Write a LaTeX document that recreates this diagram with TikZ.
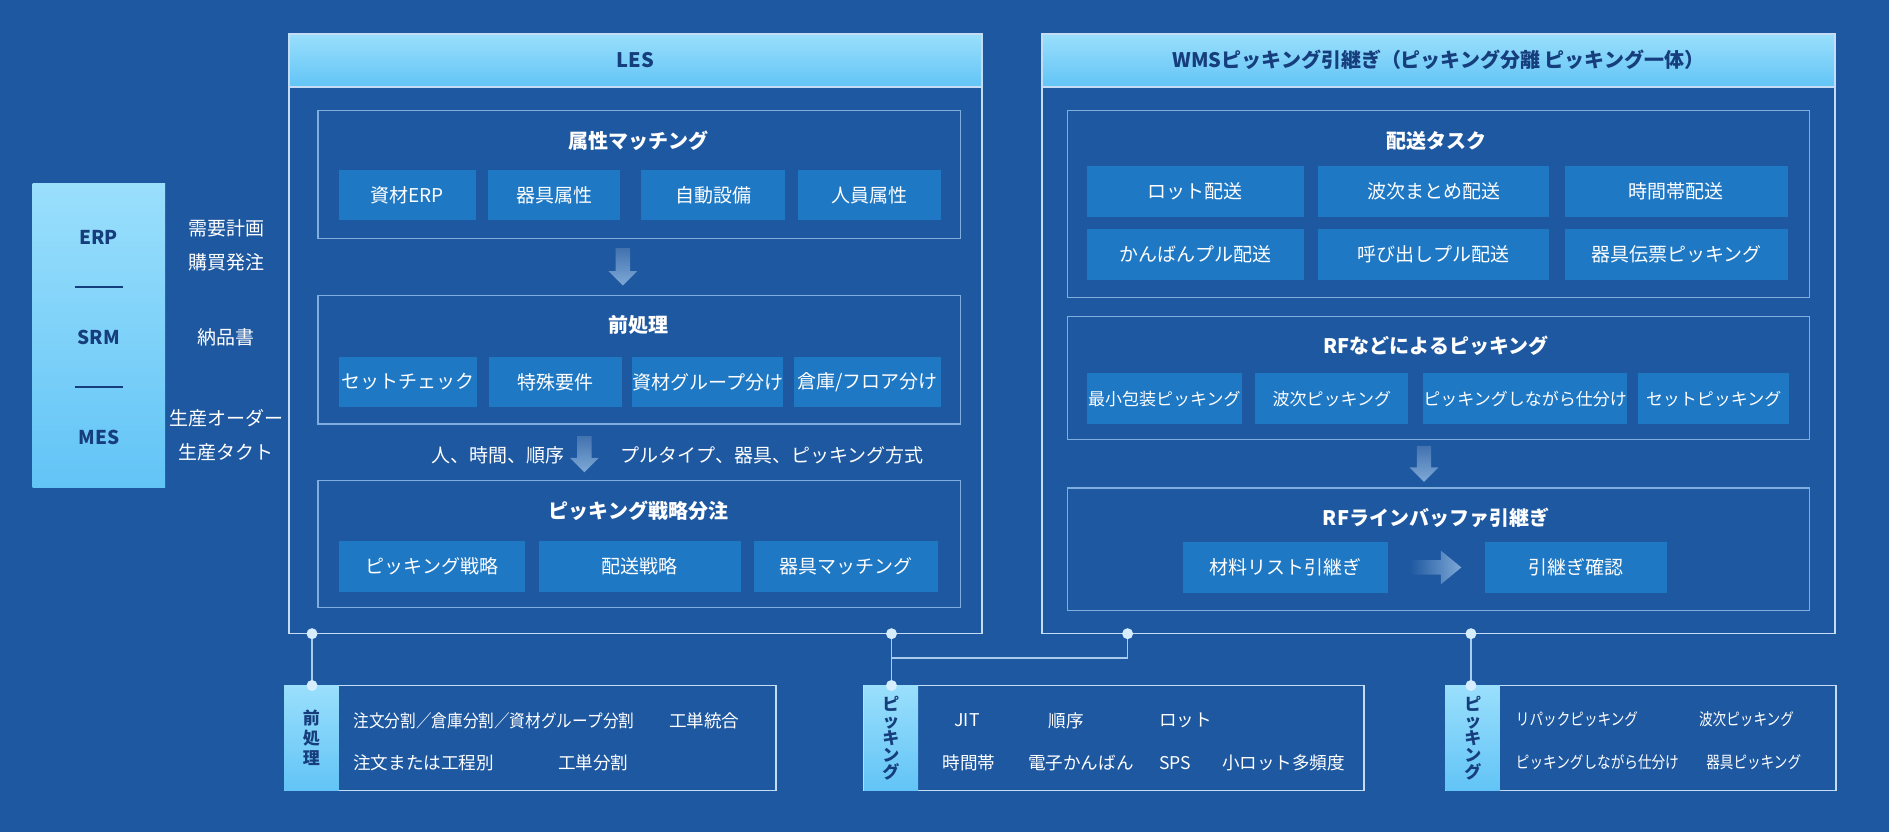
\documentclass[tikz,border=0pt]{standalone}
\usepackage{fontspec}
\setmainfont{Noto Sans CJK JP}
\definecolor{bg}{HTML}{1E58A0}
\definecolor{itm}{HTML}{1F78C4}
\definecolor{brd}{HTML}{7FAEDD}
\definecolor{obrd}{HTML}{C4DDF5}
\definecolor{hd1}{HTML}{9ADFFC}
\definecolor{hd2}{HTML}{62C4F6}
\definecolor{navy}{HTML}{173E7C}
\definecolor{ln}{HTML}{A8CBEE}
\definecolor{dotc}{HTML}{D6ECFF}
\tikzset{
 item/.style={fill=itm,text=white,font=\fontsize{9.5}{11}\selectfont,inner sep=0pt},
 frame/.style={draw=brd,line width=0.6pt,inner sep=0pt},
 oframe/.style={draw=obrd,line width=0.8pt,inner sep=0pt},
 head/.style={top color=hd1,bottom color=hd2,draw=obrd,line width=0.8pt,text=navy,font=\bfseries\fontsize{10}{12}\selectfont,inner sep=0pt},
 ttl/.style={text=white,font=\bfseries\fontsize{10}{12}\selectfont},
 lbl/.style={text=white,font=\fontsize{9.5}{17}\selectfont},
 sml/.style={text=white,font=\fontsize{8.8}{10}\selectfont,anchor=west,inner sep=0pt},
 tab/.style={top color=hd1,bottom color=hd2,text=navy,font=\bfseries\fontsize{8.5}{10}\selectfont,inner sep=0pt,align=center},
 dot/.style={circle,fill=dotc,inner sep=0pt,minimum size=5.5pt},
 conn/.style={draw=ln,line width=0.8pt},
}
\newcommand\bx[7]{\pgfmathsetmacro\bw{(#5-#3)*0.6025}\pgfmathsetmacro\bh{(#6-#4)*0.6025}%
\node[#1,minimum width=\bw pt,minimum height=\bh pt] (#2) at ({(#3+#5)/2},{(#4+#6)/2}) {#7};}
\newcommand\darr[3]{\shade[top color=bg!60!white!40!bg,bottom color=ln!70!bg] (#1-6,#2) -- (#1+6,#2) -- (#1+6,#3-12) -- (#1+12,#3-12) -- (#1,#3) -- (#1-12,#3-12) -- (#1-6,#3-12) -- cycle;}
\newcommand\cond[2]{\scalebox{#1}[1]{#2}}
\begin{document}
\begin{tikzpicture}[x=0.6025pt,y=-0.6025pt]
\fill[bg] (0,0) rectangle (1568,691);
\useasboundingbox (0,0) rectangle (1568,691);
% left panel
\bx{tab}{src}{27}{152}{137}{405}{}
\node[text=navy,font=\bfseries\fontsize{9.5}{11}\selectfont] (erp) at (82,197) {ERP};
\node[text=navy,font=\bfseries\fontsize{9.5}{11}\selectfont] (srm) at (82,280) {SRM};
\node[text=navy,font=\bfseries\fontsize{9.5}{11}\selectfont] (mes) at (82,363) {MES};
\draw[navy,line width=0.8pt] (62,238) -- (102,238) (62,321) -- (102,321);
\node[lbl,align=center] (l1) at (188,204) {需要計画\\購買発注};
\node[lbl] (l2) at (188,280) {納品書};
\node[lbl,align=center] (l3) at (188,361) {生産オーダー\\生産タクト};
% LES
\bx{oframe}{les}{240}{28}{815}{526}{}
\bx{head}{lesh}{240}{28}{815}{72}{LES}
\bx{frame}{f1}{264}{92}{797}{198}{}
\node[ttl] (t1) at (530,117) {属性マッチング};
\bx{item}{a1}{281}{141}{395}{183}{資材ERP}
\bx{item}{a2}{405}{141}{515}{183}{器具属性}
\bx{item}{a3}{532}{141}{652}{183}{自動設備}
\bx{item}{a4}{662}{141}{781}{183}{人員属性}
\darr{517}{206}{237}
\bx{frame}{f2}{264}{245}{797}{352}{}
\node[ttl] (t2) at (530,270) {前処理};
\bx{item}{b1}{281}{296}{396}{338}{セットチェック}
\bx{item}{b2}{406}{296}{516}{338}{特殊要件}
\bx{item}{b3}{527}{296}{648}{338}{資材グループ分け}
\bx{item}{b4}{659}{296}{781}{338}{倉庫/フロア分け}
\node[lbl] (r1) at (413,378) {人、時間、順序};
\darr{485}{362}{392}
\node[lbl] (r2) at (641,378) {プルタイプ、器具、ピッキング方式};
\bx{frame}{f3}{264}{399}{797}{504}{}
\node[ttl] (t3) at (530,424) {ピッキング戦略分注};
\bx{item}{c1}{281}{449}{436}{491}{ピッキング戦略}
\bx{item}{c2}{447}{449}{615}{491}{配送戦略}
\bx{item}{c3}{626}{449}{779}{491}{器具マッチング}
% WMS
\bx{oframe}{wms}{865}{28}{1523}{526}{}
\bx{head}{wmsh}{865}{28}{1523}{72}{WMSピッキング引継ぎ（ピッキング分離 ピッキング一体）}
\bx{frame}{g1}{886}{92}{1502}{247}{}
\node[ttl] (u1) at (1192,117) {配送タスク};
\bx{item}{d1}{902}{138}{1082}{180}{ロット配送}
\bx{item}{d2}{1094}{138}{1286}{180}{波次まとめ配送}
\bx{item}{d3}{1299}{138}{1484}{180}{時間帯配送}
\bx{item}{d4}{902}{190}{1082}{232}{かんばんプル配送}
\bx{item}{d5}{1094}{190}{1286}{232}{呼び出しプル配送}
\bx{item}{d6}{1299}{190}{1484}{232}{器具伝票ピッキング}
\bx{frame}{g2}{886}{263}{1502}{365}{}
\node[ttl] (u2) at (1192,287) {RFなどによるピッキング};
\bx{item,font=\fontsize{8.5}{10}\selectfont}{e1}{902}{310}{1031}{352}{最小包装ピッキング}
\bx{item,font=\fontsize{8.5}{10}\selectfont}{e2}{1042}{310}{1169}{352}{波次ピッキング}
\bx{item,font=\fontsize{8.5}{10}\selectfont}{e3}{1182}{310}{1350}{352}{ピッキングしながら仕分け}
\bx{item,font=\fontsize{8.5}{10}\selectfont}{e4}{1360}{310}{1485}{352}{セットピッキング}
\darr{1182}{370}{400}
\bx{frame}{g3}{886}{405}{1502}{507}{}
\node[ttl] (u3) at (1192,430) {RFラインバッファ引継ぎ};
\bx{item}{h1}{982}{450}{1152}{492}{材料リスト引継ぎ}
\bx{item}{h2}{1233}{450}{1384}{492}{引継ぎ確認}
\shade[left color=bg,right color=ln!70!bg] (1170,465) -- (1196,465) -- (1196,457) -- (1213,471) -- (1196,485) -- (1196,477) -- (1170,477) -- cycle;
% bottom boxes
\bx{oframe}{p1}{236}{569}{644}{656}{}
\bx{tab}{p1t}{236}{569}{281}{656}{前\\処\\理}
\node[sml] at (293,598) {\cond{0.89}{注文分割／倉庫分割／資材グループ分割}};
\node[sml] at (555,598) {工単統合};
\node[sml] at (293,633) {注文または工程別};
\node[sml] at (463,633) {工単分割};
\bx{oframe}{p2}{717}{569}{1132}{656}{}
\bx{tab,font=\bfseries\fontsize{8.5}{8.5}\selectfont}{p2t}{717}{569}{762}{656}{ピ\\ッ\\キ\\ン\\グ}
\node[sml] at (792,598) {JIT};
\node[sml] at (870,598) {順序};
\node[sml] at (962,598) {ロット};
\node[sml] at (782,633) {時間帯};
\node[sml] at (853,633) {電子かんばん};
\node[sml] at (962,633) {SPS};
\node[sml] at (1014,633) {小ロット多頻度};
\bx{oframe}{p3}{1200}{569}{1524}{656}{}
\bx{tab,font=\bfseries\fontsize{8.5}{8.5}\selectfont}{p3t}{1200}{569}{1245}{656}{ピ\\ッ\\キ\\ン\\グ}
\node[sml,font=\fontsize{8.3}{10}\selectfont] at (1258,597) {\cond{0.82}{リパックピッキング}};
\node[sml,font=\fontsize{8.3}{10}\selectfont] at (1410,597) {\cond{0.82}{波次ピッキング}};
\node[sml,font=\fontsize{8.3}{10}\selectfont] at (1258,633) {\cond{0.82}{ピッキングしながら仕分け}};
\node[sml,font=\fontsize{8.3}{10}\selectfont] at (1416,633) {\cond{0.82}{器具ピッキング}};
% connectors
\coordinate (j) at (740,546);
\draw[conn] (259,526) -- (259,569);
\draw[conn] (740,526) -- (740,569);
\draw[conn] (j) -- (936,546) -- (936,526);
\draw[conn] (1221,526) -- (1221,569);
\foreach \p in {(259,526),(259,569),(740,526),(740,569),(936,526),(1221,526),(1221,569)} \node[dot] at \p {};
\end{tikzpicture}
\end{document}
